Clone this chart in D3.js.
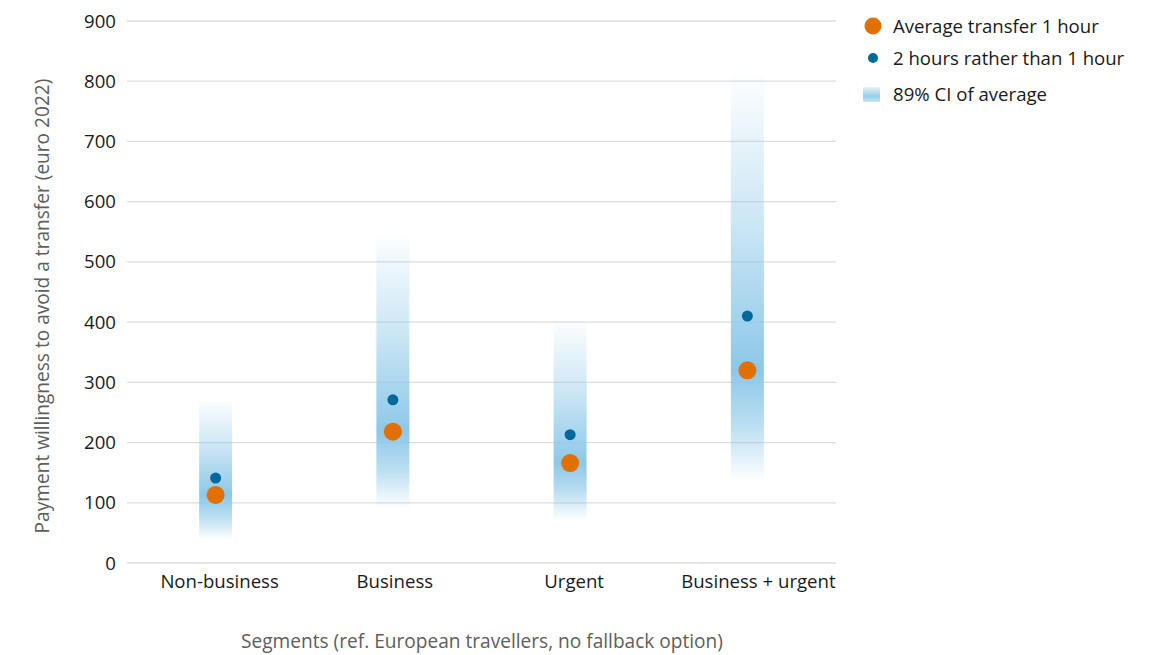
<!DOCTYPE html>
<html><head><meta charset="utf-8">
<script src="https://cdn.jsdelivr.net/npm/d3@7"></script>
<style>body{margin:0;background:#fff;font-family:"Open Sans","Noto Sans",sans-serif;}</style>
</head><body><svg id="c" width="1160" height="655"></svg>
<script>
const categories = ["Non-business", "Business", "Urgent", "Business + urgent"];
const avg1h = [113, 218, 166, 320];
const twoHours = [141, 271, 213, 410];
const ciLow = [40, 93, 72, 138];
const ciHigh = [272, 546, 402, 810];
const yTicks = [0, 100, 200, 300, 400, 500, 600, 700, 800, 900];

const FS = 18.6, FT = 19.1;
const svg = d3.select("#c");
const m = {l:127, r:836, t:21, b:563};
const x = d3.scaleBand().domain(categories).range([m.l, m.r]);
const y = d3.scaleLinear().domain([0, 900]).range([m.b, m.t]);
const orange = "#e17000", blue = "#01689b", ci = "#8dc8e8";

// grid
svg.append("g").selectAll("line").data(yTicks).join("line")
  .attr("x1", m.l).attr("x2", m.r)
  .attr("y1", d => y(d)).attr("y2", d => y(d))
  .attr("stroke", "#dcdcdc").attr("stroke-width", 1.3);
svg.append("g").selectAll("text").data(yTicks).join("text")
  .attr("x", 116).attr("y", d => y(d)).attr("dy", "0.35em")
  .attr("text-anchor", "end").attr("font-size", FS).attr("fill", "#1a1a1a")
  .text(d => d);

// gradients
const defs = svg.append("defs");
categories.forEach((c, i) => {
  const g = defs.append("linearGradient").attr("id", "g" + i)
    .attr("x1", 0).attr("x2", 0).attr("y1", 0).attr("y2", 1);
  const p = (y(avg1h[i]) - y(ciHigh[i])) / (y(ciLow[i]) - y(ciHigh[i]));
  g.append("stop").attr("offset", 0).attr("stop-color", ci).attr("stop-opacity", 0.02);
  g.append("stop").attr("offset", p * 0.5).attr("stop-color", ci).attr("stop-opacity", 0.45);
  g.append("stop").attr("offset", p).attr("stop-color", ci).attr("stop-opacity", 1);
  g.append("stop").attr("offset", p + (1 - p) * 0.5).attr("stop-color", ci).attr("stop-opacity", 0.6);
  g.append("stop").attr("offset", 1).attr("stop-color", ci).attr("stop-opacity", 0.02);
});
const bw = 33;
svg.append("g").selectAll("rect").data(categories).join("rect")
  .attr("x", d => x(d) + x.bandwidth()/2 - bw/2).attr("width", bw)
  .attr("y", (d, i) => y(ciHigh[i]))
  .attr("height", (d, i) => y(ciLow[i]) - y(ciHigh[i]))
  .attr("fill", (d, i) => `url(#g${i})`);

svg.append("g").selectAll("circle").data(categories).join("circle")
  .attr("cx", d => x(d) + x.bandwidth()/2).attr("cy", (d, i) => y(twoHours[i]))
  .attr("r", 5.5).attr("fill", blue);
svg.append("g").selectAll("circle").data(categories).join("circle")
  .attr("cx", d => x(d) + x.bandwidth()/2).attr("cy", (d, i) => y(avg1h[i]))
  .attr("r", 9).attr("fill", orange);

// category labels
const labelShift = [4, 2, 4, 11];
svg.append("g").selectAll("text").data(categories).join("text")
  .attr("x", (d, i) => x(d) + x.bandwidth()/2 + labelShift[i]).attr("y", 581).attr("dy", "0.35em")
  .attr("text-anchor", "middle").attr("font-size", FS).attr("fill", "#1a1a1a")
  .text(d => d);

// axis titles
svg.append("text").attr("x", 482).attr("y", 641).attr("dy", "0.35em")
  .attr("text-anchor", "middle").attr("font-size", FT).attr("fill", "#5e5e5e")
  .text("Segments (ref. European travellers, no fallback option)");
svg.append("text").attr("transform", "translate(42,306) rotate(-90)")
  .attr("dy", "0.35em").attr("text-anchor", "middle").attr("font-size", FT).attr("fill", "#5e5e5e")
  .text("Payment willingness to avoid a transfer (euro 2022)");

// legend
const lg = svg.append("g");
lg.append("circle").attr("cx", 873).attr("cy", 26).attr("r", 8.5).attr("fill", orange);
lg.append("text").attr("x", 893).attr("y", 26).attr("dy", "0.35em").attr("font-size", FS).attr("fill", "#1a1a1a").text("Average transfer 1 hour");
lg.append("circle").attr("cx", 873).attr("cy", 58).attr("r", 5).attr("fill", blue);
lg.append("text").attr("x", 893).attr("y", 58).attr("dy", "0.35em").attr("font-size", FS).attr("fill", "#1a1a1a").text("2 hours rather than 1 hour");
const lgr = defs.append("linearGradient").attr("id", "lg").attr("x1", 0).attr("x2", 0).attr("y1", 0).attr("y2", 1);
lgr.append("stop").attr("offset", 0).attr("stop-color", ci).attr("stop-opacity", 0.2);
lgr.append("stop").attr("offset", 0.6).attr("stop-color", ci).attr("stop-opacity", 0.9);
lgr.append("stop").attr("offset", 1).attr("stop-color", ci).attr("stop-opacity", 0.5);
lg.append("rect").attr("x", 863).attr("y", 87).attr("width", 17).attr("height", 15).attr("fill", "url(#lg)");
lg.append("text").attr("x", 893).attr("y", 94).attr("dy", "0.35em").attr("font-size", FS).attr("fill", "#1a1a1a").text("89% CI of average");
</script></body></html>
